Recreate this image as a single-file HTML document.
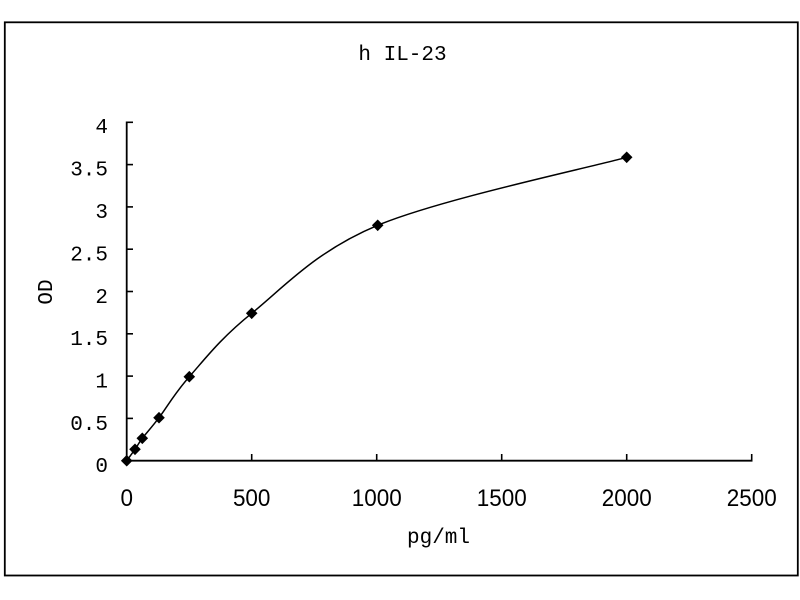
<!DOCTYPE html>
<html>
<head>
<meta charset="utf-8">
<style>
  html, body { margin:0; padding:0; background:#fff; }
  svg { display:block; }
</style>
</head>
<body>
<svg width="800" height="600" viewBox="0 0 800 600" xmlns="http://www.w3.org/2000/svg">
  <rect x="0" y="0" width="800" height="600" fill="#fff"/>
  <!-- outer frame -->
  <rect x="4.8" y="22.3" width="793" height="553.2" fill="none" stroke="#000" stroke-width="1.8"/>

  <!-- title -->
  <text x="402.5" y="60" font-family="Liberation Mono, monospace" font-size="21" text-anchor="middle" fill="#000">h IL-23</text>

  <!-- axes -->
  <line x1="126.7" y1="121.5" x2="126.7" y2="461.5" stroke="#000" stroke-width="1.8"/>
  <line x1="125.8" y1="460.7" x2="752.5" y2="460.7" stroke="#000" stroke-width="1.8"/>

  <!-- y ticks (pointing right) -->
  <g stroke="#000" stroke-width="1.6">
    <line x1="126.7" y1="122.3" x2="133" y2="122.3"/>
    <line x1="126.7" y1="164.6" x2="133" y2="164.6"/>
    <line x1="126.7" y1="206.9" x2="133" y2="206.9"/>
    <line x1="126.7" y1="249.2" x2="133" y2="249.2"/>
    <line x1="126.7" y1="291.5" x2="133" y2="291.5"/>
    <line x1="126.7" y1="333.8" x2="133" y2="333.8"/>
    <line x1="126.7" y1="376.1" x2="133" y2="376.1"/>
    <line x1="126.7" y1="418.4" x2="133" y2="418.4"/>
  </g>
  <!-- x ticks (pointing up) -->
  <g stroke="#000" stroke-width="1.6">
    <line x1="251.7" y1="454" x2="251.7" y2="460.7"/>
    <line x1="376.7" y1="454" x2="376.7" y2="460.7"/>
    <line x1="501.7" y1="454" x2="501.7" y2="460.7"/>
    <line x1="626.7" y1="454" x2="626.7" y2="460.7"/>
    <line x1="751.7" y1="454" x2="751.7" y2="460.7"/>
  </g>

  <!-- y labels -->
  <g font-family="Liberation Mono, monospace" font-size="21" text-anchor="end" fill="#000">
    <text x="108" y="133">4</text>
    <text x="108" y="175.5">3.5</text>
    <text x="108" y="218">3</text>
    <text x="108" y="260.5">2.5</text>
    <text x="108" y="303">2</text>
    <text x="108" y="345">1.5</text>
    <text x="108" y="387.5">1</text>
    <text x="108" y="430">0.5</text>
    <text x="108" y="472">0</text>
  </g>

  <!-- x labels -->
  <g font-family="Liberation Sans, sans-serif" font-size="24" text-anchor="middle" fill="#000">
    <text x="126.7" y="506" textLength="12.5" lengthAdjust="spacingAndGlyphs">0</text>
    <text x="251.7" y="506" textLength="37.5" lengthAdjust="spacingAndGlyphs">500</text>
    <text x="376.7" y="506" textLength="50" lengthAdjust="spacingAndGlyphs">1000</text>
    <text x="501.7" y="506" textLength="50" lengthAdjust="spacingAndGlyphs">1500</text>
    <text x="626.7" y="506" textLength="50" lengthAdjust="spacingAndGlyphs">2000</text>
    <text x="751.7" y="506" textLength="50" lengthAdjust="spacingAndGlyphs">2500</text>
  </g>

  <!-- axis titles -->
  <text x="438.5" y="543" font-family="Liberation Mono, monospace" font-size="21" text-anchor="middle" fill="#000">pg/ml</text>
  <text transform="translate(52,292) rotate(-90)" x="0" y="0" font-family="Liberation Mono, monospace" font-size="21" text-anchor="middle" fill="#000">OD</text>

  <!-- smoothed curve -->
  <path d="M126.7,460.7 C128.1,458.8 132.4,453.0 135,449.3
           C137.6,445.6 138.3,443.6 142.3,438.3
           C146.3,433.0 151.2,428.0 159,417.7
           C166.8,407.4 173.9,394.3 189.3,376.7
           C204.8,359.3 220.3,338.5 251.7,313.3
           C283.1,288.1 315.2,251.3 377.7,225.3
           C440.2,199.3 585.2,168.6 626.7,157.3"
        fill="none" stroke="#000" stroke-width="1.5"/>

  <!-- diamond markers -->
  <g fill="#000">
    <path d="M126.7,454.9 L132.5,460.7 L126.7,466.5 L120.9,460.7 Z"/>
    <path d="M135,443.5 L140.8,449.3 L135,455.1 L129.2,449.3 Z"/>
    <path d="M142.3,432.5 L148.1,438.3 L142.3,444.1 L136.5,438.3 Z"/>
    <path d="M159,411.9 L164.8,417.7 L159,423.5 L153.2,417.7 Z"/>
    <path d="M189.3,370.9 L195.1,376.7 L189.3,382.5 L183.5,376.7 Z"/>
    <path d="M251.7,307.5 L257.5,313.3 L251.7,319.1 L245.9,313.3 Z"/>
    <path d="M377.7,219.5 L383.5,225.3 L377.7,231.1 L371.9,225.3 Z"/>
    <path d="M626.7,151.5 L632.5,157.3 L626.7,163.1 L620.9,157.3 Z"/>
  </g>
</svg>
</body>
</html>
